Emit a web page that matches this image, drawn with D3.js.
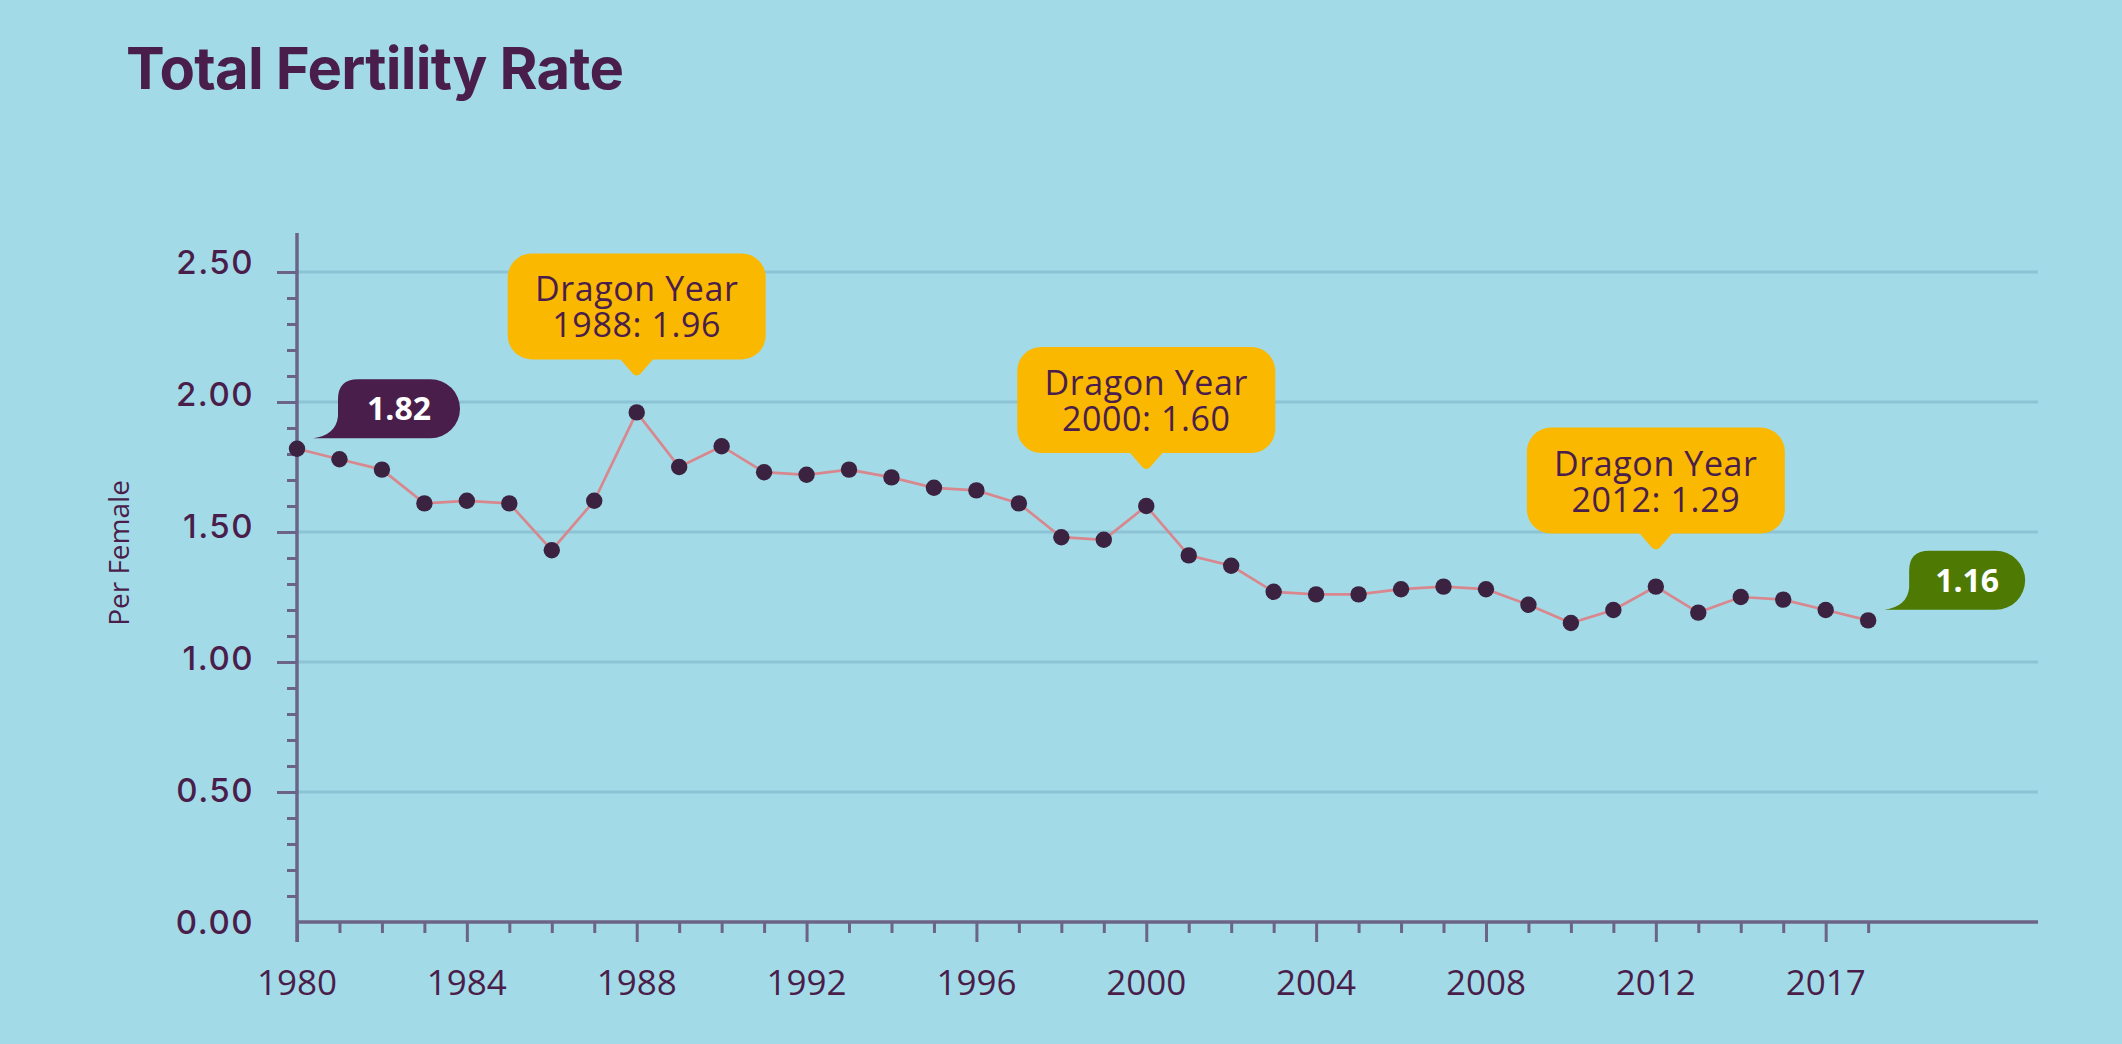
<!DOCTYPE html>
<html>
<head>
<meta charset="utf-8">
<script src="https://cdn.jsdelivr.net/npm/d3@7"></script>
<style>
  html, body { margin: 0; padding: 0; background: #a2dbe7; }
  svg { display: block; }
</style>
</head>
<body>
<svg id="chart" width="2122" height="1044"></svg>
<script>
// ---- data ----
const years = [1980,1981,1982,1983,1984,1985,1986,1987,1988,1989,1990,1991,1992,1993,1994,1995,1996,1997,1998,1999,
               2000,2001,2002,2003,2004,2005,2006,2007,2008,2009,2010,2011,2012,2013,2014,2015,2016,2017];
const tfr = [1.82,1.78,1.74,1.61,1.62,1.61,1.43,1.62,1.96,1.75,1.83,1.73,1.72,1.74,1.71,1.67,1.66,1.61,1.48,1.47,
             1.60,1.41,1.37,1.27,1.26,1.26,1.28,1.29,1.28,1.22,1.15,1.20,1.29,1.19,1.25,1.24,1.20,1.16];
const xTickYears = [1980,1984,1988,1992,1996,2000,2004,2008,2012,2016];
const xTickLabels = ["1980","1984","1988","1992","1996","2000","2004","2008","2012","2017"];
const yTickValues = [0,0.5,1.0,1.5,2.0,2.5];
const yTickLabels = ["0.00","0.50","1.00","1.50","2.00","2.50"];
const yMinorValues = [0.1,0.2,0.3,0.4,0.6,0.7,0.8,0.9,1.1,1.2,1.3,1.4,1.6,1.7,1.8,1.9,2.1,2.2,2.3,2.4];
const dragonYears = [1988, 2000, 2012];
const dragonLabels = ["1988: 1.96", "2000: 1.60", "2012: 1.29"];
const bubbleYears = [1980, 2017];
const bubbleLabels = ["1.82", "1.16"];
const title = "Total Fertility Rate";
const yAxisTitle = "Per Female";

// ---- styles ----
const C = {
  text: "#4a1e4b", grid: "#8cc4d5", axis: "#6b6486", line: "#d8878e", dot: "#3b2240",
  yellow: "#fbb800", purple: "#4a1e4a", green: "#4e7a04"
};

const svg = d3.select("#chart");
const x = d3.scaleLinear().domain([1980, 2021]).range([297, 2038]);
const y = d3.scaleLinear().domain([0, 2.5]).range([922, 272]);
const yLabelPos = d3.scaleLinear().domain([0, 2.5]).range([922, 262]);

// title
svg.append("text").attr("x", 126).attr("y", 89)
  .attr("font-family", "Inter, 'Open Sans', sans-serif").attr("font-weight", 750)
  .attr("font-size", 58).attr("fill", C.text)
  .attr("textLength", 498).attr("lengthAdjust", "spacing")
  .text(title);

// gridlines
svg.append("g").selectAll("line").data(yTickValues.filter(v => v > 0)).join("line")
  .attr("x1", x(1980)).attr("x2", x(2021))
  .attr("y1", d => y(d)).attr("y2", d => y(d))
  .attr("stroke", C.grid).attr("stroke-width", 3);

// y axis (major + minor ticks)
const yMajor = svg.append("g").attr("transform", `translate(${x(1980)},0)`)
  .call(d3.axisLeft(y).tickValues(yTickValues.filter(v => v > 0)).tickSize(20).tickFormat(""));
const yMinor = svg.append("g").attr("transform", `translate(${x(1980)},0)`)
  .call(d3.axisLeft(y).tickValues(yMinorValues).tickSize(10).tickFormat(""));
[yMajor, yMinor].forEach(g => {
  g.select(".domain").remove();
  g.selectAll(".tick line").attr("stroke", C.axis).attr("stroke-width", 3);
});
// y labels
svg.append("g").selectAll("text").data(yTickValues).join("text")
  .attr("x", 254).attr("y", d => yLabelPos(d)).attr("dy", "0.36em")
  .attr("text-anchor", "end")
  .attr("font-family", "Inter, sans-serif").attr("font-weight", 500)
  .attr("font-size", 33).attr("fill", C.text).attr("letter-spacing", 1.5)
  .text((d, i) => yTickLabels[i]);

// x axis
const xMajor = svg.append("g").attr("transform", `translate(0,${y(0)})`)
  .call(d3.axisBottom(x).tickValues(xTickYears).tickSize(20).tickFormat(""));
const xMinor = svg.append("g").attr("transform", `translate(0,${y(0)})`)
  .call(d3.axisBottom(x).tickValues(years.filter(v => !xTickYears.includes(v))).tickSize(11).tickFormat(""));
[xMajor, xMinor].forEach(g => {
  g.select(".domain").remove();
  g.selectAll(".tick line").attr("stroke", C.axis).attr("stroke-width", 3);
});
svg.append("g").selectAll("text").data(xTickYears).join("text")
  .attr("x", d => x(d)).attr("y", 995).attr("text-anchor", "middle")
  .attr("font-family", "'Open Sans', sans-serif").attr("font-weight", 500)
  .attr("font-size", 35).attr("fill", C.text)
  .text((d, i) => xTickLabels[i]);

// axis lines
svg.append("line").attr("x1", x(1980)).attr("x2", x(1980)).attr("y1", y(2.65)).attr("y2", y(0) + 20)
  .attr("stroke", C.axis).attr("stroke-width", 3.5);
svg.append("line").attr("x1", x(1980)).attr("x2", x(2021)).attr("y1", y(0)).attr("y2", y(0))
  .attr("stroke", C.axis).attr("stroke-width", 3.5);

// y axis title
svg.append("text").attr("transform", `translate(129,553) rotate(-90)`)
  .attr("text-anchor", "middle")
  .attr("font-family", "'Open Sans', sans-serif").attr("font-weight", 400)
  .attr("font-size", 28).attr("fill", C.text).text(yAxisTitle);

// line + dots
const pts = years.map((yr, i) => [yr, tfr[i]]);
svg.append("path").datum(pts)
  .attr("d", d3.line().x(d => x(d[0])).y(d => y(d[1])))
  .attr("fill", "none").attr("stroke", C.line).attr("stroke-width", 2.7);
svg.append("g").selectAll("circle").data(pts).join("circle")
  .attr("cx", d => x(d[0])).attr("cy", d => y(d[1])).attr("r", 8.2).attr("fill", C.dot);

// dragon year callouts
dragonYears.forEach((yr, i) => {
  const v = tfr[years.indexOf(yr)];
  const cx = x(yr), py = y(v);
  const bottom = py - 53, h = 106, w = 258, tip = py - 36;
  const g = svg.append("g");
  g.append("rect").attr("x", cx - w / 2).attr("y", bottom - h).attr("width", w).attr("height", h)
    .attr("rx", 24).attr("fill", C.yellow);
  g.append("path")
    .attr("d", `M${cx - 17},${bottom - 1} L${cx - 4},${tip - 3} Q${cx},${tip + 1} ${cx + 4},${tip - 3} L${cx + 17},${bottom - 1} Z`)
    .attr("fill", C.yellow);
  const t = g.append("text").attr("text-anchor", "middle")
    .attr("font-family", "'Open Sans', sans-serif").attr("font-weight", 500)
    .attr("font-size", 34).attr("letter-spacing", 0.6).attr("fill", C.text);
  t.append("tspan").attr("x", cx).attr("y", bottom - h + 48).text("Dragon Year");
  t.append("tspan").attr("x", cx).attr("y", bottom - h + 84).text(dragonLabels[i]);
});

// value bubbles
const bubbleColors = [C.purple, C.green];
bubbleYears.forEach((yr, i) => {
  const v = tfr[years.indexOf(yr)];
  const px = x(yr), py = y(v);
  const tx = px + 16, ty = py - 10.6;
  const bx0 = tx + 25, w = i === 0 ? 122 : 116, bx1 = bx0 + w;
  const h = 59, by0 = ty - h, R = h / 2, r = 20;
  const d = `M${tx},${ty} Q${bx0 - 2},${ty - 3} ${bx0},${ty - 22} L${bx0},${by0 + r} Q${bx0},${by0} ${bx0 + r},${by0} ` +
            `L${bx1 - R},${by0} A${R},${R} 0 0 1 ${bx1 - R},${ty} Z`;
  svg.append("path").attr("d", d).attr("fill", bubbleColors[i]);
  svg.append("text").attr("x", (bx0 + bx1) / 2).attr("y", ty - 18)
    .attr("text-anchor", "middle")
    .attr("font-family", "'Open Sans', sans-serif").attr("font-weight", 700)
    .attr("font-size", 32).attr("fill", "#ffffff").text(bubbleLabels[i]);
});
</script>
</body>
</html>
